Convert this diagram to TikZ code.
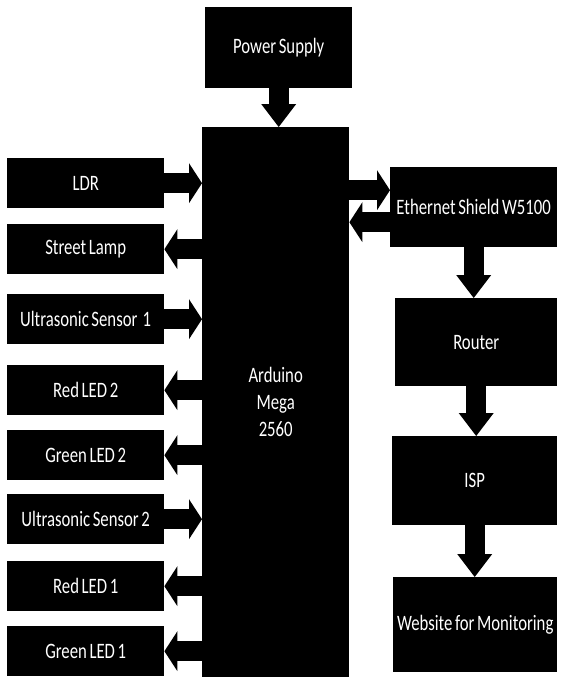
\documentclass[tikz,border=0pt]{standalone}
\usepackage{fontspec}
\setmainfont{Carlito}[FakeStretch=0.76, WordSpace=0.7]
\usetikzlibrary{arrows.meta}

\begin{document}
\begin{tikzpicture}[
    x=1pt, y=-1pt,
    bloc/.style={fill=black, text=white, inner sep=0pt, anchor=north west,
      align=center, font=\fontsize{22}{27}\selectfont},
    capteur/.style={bloc, minimum width=157pt, minimum height=50pt},
    fleche/.style={line width=20pt, -{Triangle[width=40pt, length=13pt, line width'=0pt]}},
    flechebas/.style={line width=20pt, -{Triangle[width=35pt, length=23pt, line width'=0pt]}},
  ]
  \useasboundingbox (0,0) rectangle (560,677);
  % carte centrale
  \node[bloc, minimum width=147pt, minimum height=550pt] (ard) at (202,127) {Arduino\\Mega\\2560};
  \node[bloc, minimum width=147pt, minimum height=81pt] (pwr) at (205,7) {Power Supply};
  % colonne de gauche
  \node[capteur] (ldr) at (7,158) {LDR};
  \node[capteur] (lamp) at (7,224) {Street Lamp};
  \node[capteur] (usone) at (7,294) {Ultrasonic Sensor~~1};
  \node[capteur] (redtwo) at (7,365) {Red LED 2};
  \node[capteur] (greentwo) at (7,430) {Green LED 2};
  \node[capteur] (ustwo) at (7,494) {Ultrasonic Sensor 2};
  \node[capteur] (redone) at (7,561) {Red LED 1};
  \node[capteur] (greenone) at (7,626) {Green LED 1};
  % colonne de droite
  \node[bloc, minimum width=167pt, minimum height=80pt] (eth) at (390,167) {Ethernet Shield W5100};
  \node[bloc, minimum width=162pt, minimum height=88pt] (router) at (395,298) {Router};
  \node[bloc, minimum width=165pt, minimum height=89pt] (isp) at (392,436) {ISP};
  \node[bloc, minimum width=164pt, minimum height=95pt] (web) at (393,577) {Website for Monitoring};

  \draw[flechebas] (pwr.south) -- (pwr.south |- ard.north);
  \draw[fleche] (ldr.east) -- (ldr.east -| ard.west);
  \draw[fleche] (lamp.east -| ard.west) -- (lamp.east);
  \draw[fleche] (usone.east) -- (usone.east -| ard.west);
  \draw[fleche] (redtwo.east -| ard.west) -- (redtwo.east);
  \draw[fleche] (greentwo.east -| ard.west) -- (greentwo.east);
  \draw[fleche] (ustwo.east) -- (ustwo.east -| ard.west);
  \draw[fleche] (redone.east -| ard.west) -- (redone.east);
  \draw[fleche] (greenone.east -| ard.west) -- (greenone.east);
  \draw[fleche] ([yshift=17pt]eth.west -| ard.east) -- ([yshift=17pt]eth.west);
  \draw[fleche] ([yshift=-15pt]eth.west) -- ([yshift=-15pt]eth.west -| ard.east);
  \draw[flechebas] (eth.south) -- (eth.south |- router.north);
  \draw[flechebas] (router.south) -- (router.south |- isp.north);
  \draw[flechebas] (isp.south) -- (isp.south |- web.north);
\end{tikzpicture}
\end{document}
